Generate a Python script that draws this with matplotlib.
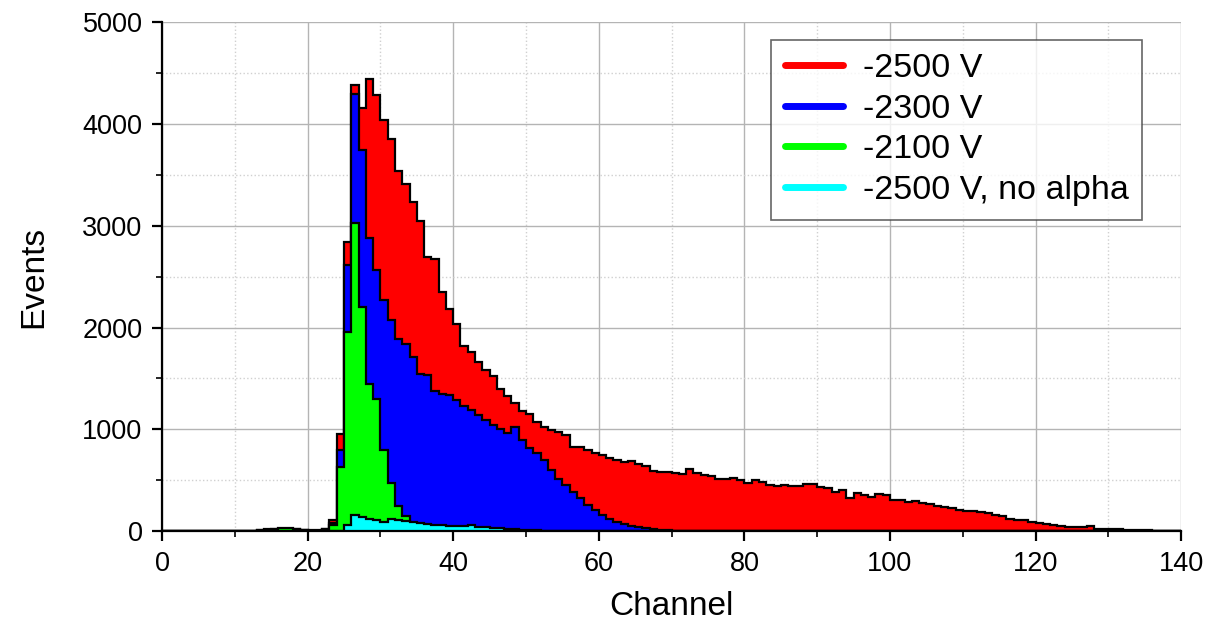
import numpy as np
import matplotlib
matplotlib.use('Agg')
import matplotlib.pyplot as plt
from matplotlib.lines import Line2D

plt.rcParams['font.family'] = ['Liberation Sans', 'DejaVu Sans']

# histogram counts per channel (bin [c, c+1)), each series starts at its own channel
red_start = 12
red_counts = [3, 8, 15, 20, 25, 25, 20, 15, 10, 8, 25, 110,
              950, 2840, 4385, 4155, 4435, 4285, 4035, 3850, 3540, 3410, 3230, 3050,
              2690, 2670, 2345, 2180, 2035, 1820, 1755, 1665, 1580, 1520, 1400, 1330,
              1260, 1180, 1150, 1075, 1025, 990, 970, 940, 830, 825, 800, 765,
              745, 720, 700, 680, 690, 665, 640, 595, 580, 585, 575, 560,
              610, 570, 555, 540, 515, 510, 520, 500, 475, 505, 480, 450,
              445, 455, 440, 440, 462, 465, 432, 422, 390, 406, 330, 373,
              356, 333, 366, 360, 310, 305, 290, 300, 280, 268, 250, 238,
              225, 212, 197, 195, 188, 175, 157, 145, 125, 115, 110, 90,
              85, 75, 60, 52, 45, 43, 40, 50, 20, 20, 26, 18,
              15, 12, 10, 8, 6, 5, 3, 2]

blue_start = 12
blue_counts = [2, 5, 10, 15, 18, 18, 15, 10, 6, 5, 20, 80,
               800, 2610, 4295, 3740, 2875, 2565, 2270, 2070, 1890, 1840, 1715, 1545,
               1530, 1380, 1352, 1340, 1290, 1225, 1190, 1140, 1090, 1040, 1005, 960,
               1025, 895, 815, 765, 700, 600, 510, 455, 390, 325, 260, 205,
               160, 125, 95, 72, 55, 40, 28, 20, 14, 9, 5, 3,
               2, 1, 1, 1]

green_start = 12
green_counts = [3, 10, 18, 25, 33, 30, 20, 12, 6, 4, 15, 60,
                630, 1960, 3025, 2205, 1450, 1300, 800, 470, 250, 150, 20, 8,
                4, 2, 1]

cyan_start = 25
cyan_counts = [60, 160, 142, 125, 110, 95, 122, 115, 102, 90, 80, 70,
               62, 58, 54, 50, 47, 58, 44, 40, 35, 30, 25, 20,
               15, 12, 9, 7, 5, 4, 3, 2]

labels = ['-2500 V', '-2300 V', '-2100 V', '-2500 V, no alpha']
colors = ['#ff0000', '#0000ff', '#00ff00', '#00ffff']

n_channels = 140


def full(start, counts):
    h = np.zeros(n_channels)
    h[start:start + len(counts)] = counts
    return h


series = [full(red_start, red_counts), full(blue_start, blue_counts),
          full(green_start, green_counts), full(cyan_start, cyan_counts)]
edges = np.arange(n_channels + 1)

fig = plt.figure(figsize=(12.09, 6.25), dpi=100)
ax = fig.add_axes([0.134, 0.150, 0.843, 0.815])

for h, c in zip(series, colors):
    ax.stairs(h, edges, fill=True, facecolor=c, edgecolor='black', linewidth=1.6, zorder=3)

ax.set_xlim(0, 140)
ax.set_ylim(0, 5000)
ax.set_xticks(range(0, 141, 20))
ax.set_xticks(range(10, 140, 20), minor=True)
ax.set_yticks(range(0, 5001, 1000))
ax.set_yticks(range(500, 5000, 1000), minor=True)

ax.grid(which='major', color='#b4b4b4', linestyle='-', linewidth=1.0, zorder=0)
ax.grid(which='minor', color='#d0d0d0', linestyle=':', linewidth=1.0, zorder=0)
ax.set_axisbelow(True)

for s in ['top', 'right']:
    ax.spines[s].set_visible(False)
for s in ['left', 'bottom']:
    ax.spines[s].set_linewidth(1.6)
    ax.spines[s].set_zorder(5)

ax.tick_params(which='major', direction='out', length=7, width=1.6, labelsize=19.5, pad=7)
ax.tick_params(which='minor', direction='out', length=4, width=1.2)

ax.set_xlabel('Channel', fontsize=24, labelpad=10)
ax.set_ylabel('Events', fontsize=24, labelpad=24)

handles = [Line2D([0], [0], color=c, linewidth=5, solid_capstyle='round') for c in colors]
leg = ax.legend(handles, labels, loc='upper right', bbox_to_anchor=(0.962, 0.965),
                fontsize=24.5, frameon=True, fancybox=False, handlelength=1.7,
                handletextpad=0.6, borderpad=0.4, labelspacing=0.28, borderaxespad=0)
leg.get_frame().set_edgecolor('#404040')
leg.get_frame().set_linewidth(1.2)
leg.set_zorder(6)

fig.savefig('out.png', dpi=100)
